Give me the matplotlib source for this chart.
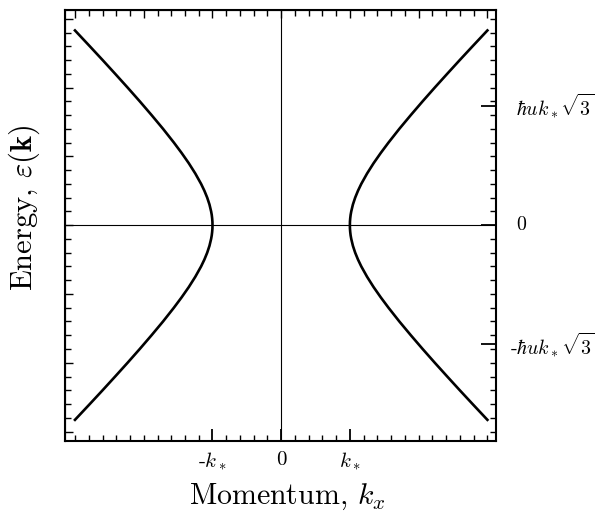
import numpy as np
import matplotlib
matplotlib.use("Agg")
import matplotlib.pyplot as plt
from matplotlib.ticker import MultipleLocator, FixedLocator, NullFormatter

plt.rcParams['font.family'] = 'serif'
plt.rcParams['font.serif'] = ['cmr10', 'DejaVu Serif']
plt.rcParams['mathtext.fontset'] = 'cm'
plt.rcParams['axes.unicode_minus'] = False
plt.rcParams['axes.formatter.use_mathtext'] = True

# upper right branch (k in units of k*, energy in units of hbar*u*k*)
k_branch = [1.000, 1.001, 1.005, 1.011, 1.020, 1.044, 1.077, 1.118, 1.166, 1.250,
            1.345, 1.450, 1.562, 1.720, 1.887, 2.059, 2.236, 2.417, 2.600, 2.786, 3.002]
eps_branch = [0.00, 0.05, 0.10, 0.15, 0.20, 0.30, 0.40, 0.50, 0.60, 0.75,
              0.90, 1.05, 1.20, 1.40, 1.60, 1.80, 2.00, 2.20, 2.40, 2.60, 2.83]

xtick_pos = [-1, 0, 1]
xtick_labels = [r'-$k_*$', '0', r'$k_*$']
ytick_pos = [-np.sqrt(3), 0, np.sqrt(3)]
ytick_labels = [r'-$\hbar u k_* \sqrt{3}$', '0', r'$\hbar u k_* \sqrt{3}$']

fig = plt.figure(figsize=(6, 5.16), dpi=100)
ax = fig.add_axes([0.108, 0.145, 0.719, 0.836])

k = np.array(k_branch)
e = np.array(eps_branch)
kk = np.concatenate([k[::-1], k[1:]])
ee = np.concatenate([-e[::-1], e[1:]])
for s in (1, -1):
    ax.plot(s * kk, ee, color='black', lw=1.9, solid_joinstyle='round')

ax.axhline(0, color='black', lw=0.8)
ax.axvline(0, color='black', lw=0.8)

ax.set_xlim(-3.15, 3.13)
ax.set_ylim(-3.14, 3.13)

for sp in ax.spines.values():
    sp.set_linewidth(1.5)

# bottom axis
ax.xaxis.set_major_locator(FixedLocator(xtick_pos))
ax.set_xticklabels(xtick_labels, fontsize=15)
ax.xaxis.set_minor_locator(MultipleLocator(0.2))
ax.tick_params(axis='x', which='major', direction='in', length=9, width=1.3, pad=7)
ax.tick_params(axis='x', which='minor', direction='in', length=4.5, width=1.0)

# right axis, labels put in by hand so the long negative one fits
ax.yaxis.tick_right()
ax.yaxis.set_major_locator(FixedLocator(ytick_pos))
ax.yaxis.set_major_formatter(NullFormatter())
ax.yaxis.set_minor_locator(MultipleLocator(0.2))
ax.tick_params(axis='y', which='major', direction='in', length=11, width=1.3)
ax.tick_params(axis='y', which='minor', direction='in', length=4.5, width=1.0)
ytr = ax.get_yaxis_transform()
for yv, lab in zip(ytick_pos, ytick_labels):
    xo = 1.032 if lab.startswith('-') else 1.046
    ax.text(xo, yv, lab, transform=ytr, fontsize=14.3, ha='left', va='center')

# top and left: ticks only
top = ax.secondary_xaxis('top')
top.xaxis.set_major_locator(MultipleLocator(1))
top.xaxis.set_minor_locator(MultipleLocator(0.2))
top.tick_params(which='major', direction='in', length=6, width=1.0, labeltop=False)
top.tick_params(which='minor', direction='in', length=4.5, width=1.0)

left = ax.secondary_yaxis('left')
left.yaxis.set_major_locator(MultipleLocator(1))
left.yaxis.set_minor_locator(MultipleLocator(0.2))
left.tick_params(which='major', direction='in', length=6, width=1.0, labelleft=False)
left.tick_params(which='minor', direction='in', length=4.5, width=1.0)

fig.text(0.479, 0.037, r'Momentum, $k_x$', fontsize=21.5, ha='center', va='center')
fig.text(0.041, 0.597, r'Energy, $\varepsilon(\mathbf{k})$', fontsize=22,
         ha='center', va='center', rotation=90)

fig.savefig('out.png', dpi=100)
